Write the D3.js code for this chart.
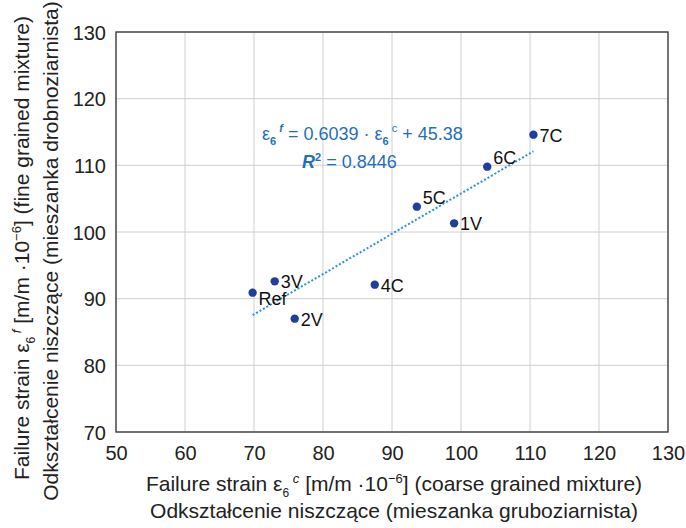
<!DOCTYPE html>
<html>
<head>
<meta charset="utf-8">
<script src="https://cdn.jsdelivr.net/npm/d3@7"></script>
<style>
  body { margin: 0; background: #fff; }
  text { font-family: "Liberation Sans", Arial, sans-serif; }
</style>
</head>
<body>
<svg id="chart" width="686" height="528"></svg>
<script>
// data
const labels = ["Ref", "3V", "2V", "4C", "5C", "1V", "6C", "7C"];
const coarse = [69.8, 73.0, 75.9, 87.5, 93.6, 99.0, 103.8, 110.5];
const fine = [90.9, 92.6, 87.0, 92.1, 103.8, 101.3, 109.8, 114.6];
const xTicks = [50, 60, 70, 80, 90, 100, 110, 120, 130];
const yTicks = [70, 80, 90, 100, 110, 120, 130];
const slope = 0.6039, intercept = 45.38;

const svg = d3.select("#chart");
const pLeft = 116, pRight = 668, pTop = 32, pBottom = 432;

const x = d3.scaleLinear().domain([50, 130]).range([pLeft, pRight]);
const y = d3.scaleLinear().domain([70, 130]).range([pBottom, pTop]);

// grid
svg.append("g")
  .selectAll("line")
  .data(xTicks)
  .join("line")
  .attr("x1", d => x(d)).attr("x2", d => x(d))
  .attr("y1", pTop).attr("y2", pBottom)
  .style("stroke", "#d0d0d0").style("stroke-width", 1);

svg.append("g")
  .selectAll("line")
  .data(yTicks)
  .join("line")
  .attr("x1", pLeft).attr("x2", pRight)
  .attr("y1", d => y(d)).attr("y2", d => y(d))
  .style("stroke", "#d0d0d0").style("stroke-width", 1);

// frame
svg.append("rect")
  .attr("x", pLeft).attr("y", pTop)
  .attr("width", pRight - pLeft).attr("height", pBottom - pTop)
  .style("fill", "none").style("stroke", "#333").style("stroke-width", 1.3);

// axes (labels only)
const xAxis = svg.append("g")
  .attr("transform", "translate(0," + pBottom + ")")
  .call(d3.axisBottom(x).tickValues(xTicks).tickSize(0).tickPadding(14));
const yAxis = svg.append("g")
  .attr("transform", "translate(" + pLeft + ",0)")
  .call(d3.axisLeft(y).tickValues(yTicks).tickSize(0).tickPadding(10));
[xAxis, yAxis].forEach(a => {
  a.select(".domain").remove();
  a.selectAll("text").style("font-size", "20px").style("fill", "#222")
    .style("font-family", "'Liberation Sans', Arial, sans-serif");
});
yAxis.selectAll("text").attr("dy", "0.36em");

// trend line
const xs = [d3.min(coarse), d3.max(coarse)];
svg.append("line")
  .attr("x1", x(xs[0])).attr("y1", y(slope * xs[0] + intercept))
  .attr("x2", x(xs[1])).attr("y2", y(slope * xs[1] + intercept))
  .style("stroke", "#2b8fd9").style("stroke-width", 2)
  .style("stroke-dasharray", "2,2");

// points
const pts = labels.map((l, i) => ({ label: l, cx: coarse[i], cy: fine[i] }));
svg.append("g")
  .selectAll("circle")
  .data(pts)
  .join("circle")
  .attr("cx", d => x(d.cx)).attr("cy", d => y(d.cy))
  .attr("r", 4.2)
  .style("fill", "#1f3f9c");

svg.append("g")
  .selectAll("text")
  .data(pts)
  .join("text")
  .attr("x", d => x(d.cx) + 6)
  .attr("y", d => y(d.cy) + (d.label == "Ref" ? 12 : (d.label == "5C" || d.label == "6C" ? -3 : 7)))
  .text(d => d.label)
  .style("font-size", "18px").style("fill", "#111");

// equation
const blue = "#1f6fba";
let eq = svg.append("text").attr("x", 262).attr("y", 140)
  .style("font-size", "18px").style("fill", blue);
eq.append("tspan").text("ε");
eq.append("tspan").attr("dy", 5).style("font-size", "11px").style("font-weight", "bold").text("6");
eq.append("tspan").attr("dy", -13).style("font-size", "11px").style("font-style", "italic").style("font-weight", "bold").text(" f");
eq.append("tspan").attr("dy", 8).text(" = 0.6039 · ε");
eq.append("tspan").attr("dy", 5).style("font-size", "11px").style("font-weight", "bold").text("6");
eq.append("tspan").attr("dy", -13).style("font-size", "11px").text(" c");
eq.append("tspan").attr("dy", 8).text(" + 45.38");

let r2 = svg.append("text").attr("x", 302).attr("y", 168)
  .style("font-size", "18px").style("fill", blue);
r2.append("tspan").style("font-weight", "bold").style("font-style", "italic").text("R");
r2.append("tspan").attr("dy", -7).style("font-size", "11px").style("font-weight", "bold").text("2");
r2.append("tspan").attr("dy", 7).text(" = 0.8446");

// x axis title
let xt = svg.append("text").attr("x", 394).attr("y", 491).attr("text-anchor", "middle")
  .style("font-size", "21px").style("fill", "#222");
xt.append("tspan").text("Failure strain ε");
xt.append("tspan").attr("dy", 6).style("font-size", "12px").text("6");
xt.append("tspan").attr("dy", -14).style("font-size", "13px").style("font-style", "italic").text(" c");
xt.append("tspan").attr("dy", 8).text(" [m/m ·10");
xt.append("tspan").attr("dy", -8).style("font-size", "13px").text("−6");
xt.append("tspan").attr("dy", 8).text("] (coarse grained mixture)");

svg.append("text").attr("x", 394).attr("y", 518).attr("text-anchor", "middle")
  .style("font-size", "21px").style("fill", "#222")
  .text("Odkształcenie niszczące (mieszanka gruboziarnista)");

// y axis title
let yt = svg.append("text").attr("transform", "translate(29,248) rotate(-90)")
  .attr("text-anchor", "middle")
  .style("font-size", "21px").style("fill", "#222");
yt.append("tspan").text("Failure strain ε");
yt.append("tspan").attr("dy", 6).style("font-size", "12px").text("6");
yt.append("tspan").attr("dy", -14).style("font-size", "13px").style("font-style", "italic").text(" f");
yt.append("tspan").attr("dy", 8).text("  [m/m ·10");
yt.append("tspan").attr("dy", -8).style("font-size", "13px").text("−6");
yt.append("tspan").attr("dy", 8).text("] (fine grained mixture)");

svg.append("text").attr("transform", "translate(58,251) rotate(-90)")
  .attr("text-anchor", "middle")
  .style("font-size", "21px").style("fill", "#222")
  .text("Odkształcenie niszczące (mieszanka drobnoziarnista)");
</script>
</body>
</html>
